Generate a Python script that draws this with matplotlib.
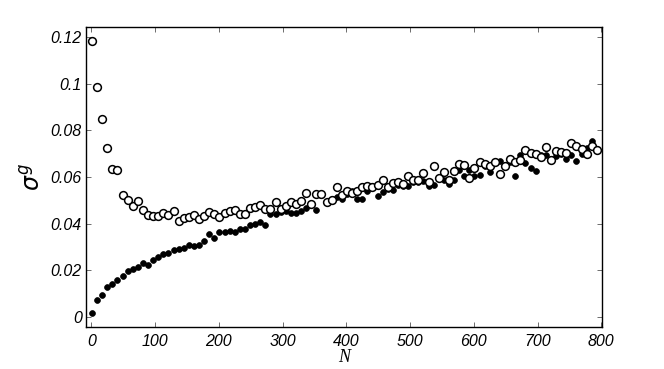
import matplotlib
matplotlib.use("Agg")
import matplotlib.pyplot as plt
import numpy as np

N = [1 + 8 * k for k in range(100)]

sigma_open = [
    0.1183, 0.0988, 0.0851, 0.0724, 0.0636, 0.0631, 0.0523, 0.0502, 0.0477, 0.0499,
    0.0460, 0.0439, 0.0434, 0.0431, 0.0446, 0.0436, 0.0452, 0.0409, 0.0426, 0.0427,
    0.0437, 0.0419, 0.0431, 0.0450, 0.0442, 0.0427, 0.0444, 0.0452, 0.0460, 0.0443,
    0.0442, 0.0466, 0.0472, 0.0480, 0.0463, 0.0463, 0.0493, 0.0463, 0.0477, 0.0494,
    0.0483, 0.0496, 0.0532, 0.0485, 0.0529, 0.0526, 0.0494, 0.0503, 0.0556, 0.0524,
    0.0539, 0.0531, 0.0539, 0.0556, 0.0561, 0.0556, 0.0567, 0.0587, 0.0556, 0.0573,
    0.0577, 0.0570, 0.0604, 0.0589, 0.0589, 0.0617, 0.0577, 0.0647, 0.0596, 0.0620,
    0.0589, 0.0626, 0.0656, 0.0651, 0.0596, 0.0640, 0.0663, 0.0656, 0.0646, 0.0666,
    0.0614, 0.0649, 0.0677, 0.0666, 0.0673, 0.0717, 0.0704, 0.0697, 0.0684, 0.0729,
    0.0674, 0.0710, 0.0707, 0.0701, 0.0744, 0.0731, 0.0720, 0.0697, 0.0734, 0.0717,
]

sigma_filled = [
    0.0016, 0.0072, 0.0093, 0.0129, 0.0142, 0.0156, 0.0176, 0.0195, 0.0203, 0.0212,
    0.0229, 0.0223, 0.0242, 0.0256, 0.0269, 0.0272, 0.0288, 0.0293, 0.0297, 0.0307,
    0.0303, 0.0310, 0.0325, 0.0357, 0.0339, 0.0366, 0.0363, 0.0369, 0.0366, 0.0376,
    0.0376, 0.0395, 0.0397, 0.0406, 0.0396, 0.0443, 0.0442, 0.0450, 0.0456, 0.0444,
    0.0447, 0.0452, 0.0469, 0.0486, 0.0460, 0.0523, 0.0494, 0.0507, 0.0513, 0.0506,
    0.0527, 0.0539, 0.0507, 0.0504, 0.0539, 0.0559, 0.0519, 0.0536, 0.0549, 0.0546,
    0.0566, 0.0563, 0.0563, 0.0577, 0.0579, 0.0584, 0.0563, 0.0564, 0.0596, 0.0587,
    0.0571, 0.0587, 0.0629, 0.0606, 0.0631, 0.0606, 0.0609, 0.0646, 0.0620, 0.0663,
    0.0669, 0.0649, 0.0663, 0.0606, 0.0694, 0.0659, 0.0639, 0.0626, 0.0694, 0.0696,
    0.0677, 0.0689, 0.0697, 0.0676, 0.0696, 0.0667, 0.0700, 0.0726, 0.0753, 0.0720,
]

x_ticks = [0, 100, 200, 300, 400, 500, 600, 700, 800]
x_ticklabels = ["0", "100", "200", "300", "400", "500", "600", "700", "800"]
y_ticks = [0, 0.02, 0.04, 0.06, 0.08, 0.1, 0.12]
y_ticklabels = ["0", "0.02", "0.04", "0.06", "0.08", "0.1", "0.12"]

fig = plt.figure(figsize=(6.64, 3.69), dpi=100)
ax = fig.add_axes([0.1295, 0.1138, 0.7771, 0.8130])

ax.plot(N, sigma_filled, linestyle="none", marker="o", markersize=4.2,
        markerfacecolor="black", markeredgecolor="black", markeredgewidth=0.5)
ax.plot(N, sigma_open, linestyle="none", marker="o", markersize=5.6,
        markerfacecolor="white", markeredgecolor="black", markeredgewidth=1.1)

ax.set_xlim(-8.3, 801)
ax.set_ylim(-0.0044, 0.1244)
ax.set_xticks(x_ticks)
ax.set_xticklabels(x_ticklabels)
ax.set_yticks(y_ticks)
ax.set_yticklabels(y_ticklabels)

for lab in ax.get_xticklabels() + ax.get_yticklabels():
    lab.set_fontfamily("Liberation Sans")
    lab.set_fontstyle("italic")
    lab.set_fontsize(11.5)

ax.tick_params(direction="in", length=3.5, width=0.6, color="#555555",
               top=True, right=True, pad=3)
ax.tick_params(axis="x", pad=5)
for s in ax.spines.values():
    s.set_linewidth(1.0)

ax.set_xlabel("N", fontfamily="Liberation Serif", fontstyle="italic",
              fontsize=13, labelpad=0)
plt.rcParams["mathtext.fontset"] = "dejavusans"
ax.set_ylabel(r"$\sigma^{g}$", fontsize=17, labelpad=4)

fig.savefig("out.png", dpi=100)
